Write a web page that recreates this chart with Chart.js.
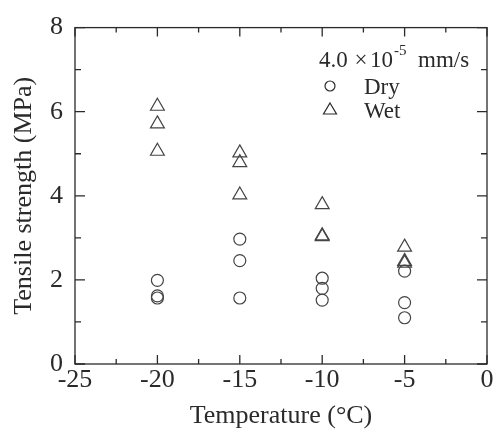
<!DOCTYPE html>
<html>
<head>
<meta charset="utf-8">
<script src="https://cdn.jsdelivr.net/npm/chart.js@4.4.1/dist/chart.umd.min.js"></script>
<style>
  html, body { margin: 0; padding: 0; background: #fff; }
  #wrap { width: 497px; height: 432px; }
</style>
</head>
<body>
<div id="wrap"><canvas id="chart" width="497" height="432"></canvas></div>
<script>
// Temperatures (°C) and tensile strength (MPa)
const dryTemp = [-20, -20, -20, -15, -15, -15, -10, -10, -10, -5, -5, -5];
const dryStrength = [1.99, 1.62, 1.57, 2.97, 2.46, 1.57, 2.04, 1.80, 1.52, 2.21, 1.46, 1.10];
const wetTemp = [-20, -20, -20, -15, -15, -15, -10, -10, -10, -5, -5, -5];
const wetStrength = [6.13, 5.71, 5.06, 5.02, 4.79, 4.02, 3.79, 3.05, 3.03, 2.78, 2.44, 2.40];

const xTicks = [-25, -20, -15, -10, -5, 0];
const yTicks = [0, 2, 4, 6, 8];

var ink = '#2a2a2a';
var serif = '"Liberation Serif", "DejaVu Serif", serif';

function toPoints(xs, ys) {
    return xs.map(function (x, i) { return { x: x, y: ys[i] }; });
}

// Box frame with inward major/minor ticks on all four sides, plus the legend
const framePlugin = {
    id: 'frame',
    afterDraw: function (chart) {
        var c = chart.ctx, a = chart.chartArea;
        var xs = chart.scales.x, ys = chart.scales.y;
        c.save();
        c.strokeStyle = ink;
        c.lineWidth = 1.3;
        c.strokeRect(a.left, a.top, a.right - a.left, a.bottom - a.top);
        c.beginPath();
        for (var v = -25; v <= 0; v += 2.5) {
            var px = xs.getPixelForValue(v);
            var len = (v % 5 === 0) ? 9 : 5;
            c.moveTo(px, a.bottom); c.lineTo(px, a.bottom - len);
            c.moveTo(px, a.top); c.lineTo(px, a.top + len);
        }
        for (var w = 0; w <= 8; w += 1) {
            var py = ys.getPixelForValue(w);
            var l2 = (w % 2 === 0) ? 10 : 6;
            c.moveTo(a.left, py); c.lineTo(a.left + l2, py);
            c.moveTo(a.right, py); c.lineTo(a.right - l2, py);
        }
        c.stroke();

        // legend
        c.fillStyle = ink;
        c.textBaseline = 'alphabetic';
        c.font = '23px ' + serif;
        c.fillText('4.0', 319, 67);
        c.textAlign = 'center';
        c.fillText('\u00d7', 361, 67);
        c.textAlign = 'left';
        c.fillText('10', 370, 67);
        c.font = '15px ' + serif;
        c.fillText('-5', 394, 55);
        c.font = '23px ' + serif;
        c.fillText('mm/s', 418, 67);
        c.fillText('Dry', 364, 94);
        c.fillText('Wet', 364, 118);
        c.lineWidth = 1.2;
        c.beginPath();
        c.arc(330, 86, 5, 0, Math.PI * 2);
        c.stroke();
        c.beginPath();
        c.moveTo(330, 103); c.lineTo(336.5, 114); c.lineTo(323.5, 114); c.closePath();
        c.stroke();
        c.restore();
    }
};

new Chart(document.getElementById('chart'), {
    type: 'scatter',
    data: {
        datasets: [
            {
                label: 'Dry',
                data: toPoints(dryTemp, dryStrength),
                pointStyle: 'circle',
                pointRadius: 6,
                borderColor: '#444',
                borderWidth: 1.2,
                backgroundColor: 'rgba(0,0,0,0)'
            },
            {
                label: 'Wet',
                data: toPoints(wetTemp, wetStrength),
                pointStyle: 'triangle',
                pointRadius: 8,
                borderColor: '#444',
                borderWidth: 1.2,
                backgroundColor: 'rgba(0,0,0,0)'
            }
        ]
    },
    options: {
        responsive: false,
        animation: false,
        layout: { padding: { top: 23, right: 10, left: 0, bottom: 0 } },
        plugins: {
            legend: { display: false },
            tooltip: { enabled: false }
        },
        scales: {
            x: {
                type: 'linear',
                min: -25, max: 0,
                afterFit: function (s) { s.height = 68; },
                afterBuildTicks: function (s) { s.ticks = xTicks.map(function (v) { return { value: v }; }); },
                grid: { display: false, drawTicks: false },
                border: { display: false },
                ticks: { color: ink, padding: 1, font: { family: serif, size: 26 } },
                title: {
                    display: true,
                    text: 'Temperature (\u00b0C)',
                    color: ink,
                    padding: 0,
                    font: { family: serif, size: 26 }
                }
            },
            y: {
                type: 'linear',
                min: 0, max: 8,
                afterFit: function (s) { s.width = 75; },
                afterBuildTicks: function (s) { s.ticks = yTicks.map(function (v) { return { value: v }; }); },
                grid: { display: false, drawTicks: false },
                border: { display: false },
                ticks: { color: ink, padding: 12, font: { family: serif, size: 26 } },
                title: {
                    display: true,
                    text: 'Tensile strength (MPa)',
                    color: ink,
                    padding: { top: 9, bottom: 0 },
                    font: { family: serif, size: 26 }
                }
            }
        }
    },
    plugins: [framePlugin]
});
</script>
</body>
</html>
